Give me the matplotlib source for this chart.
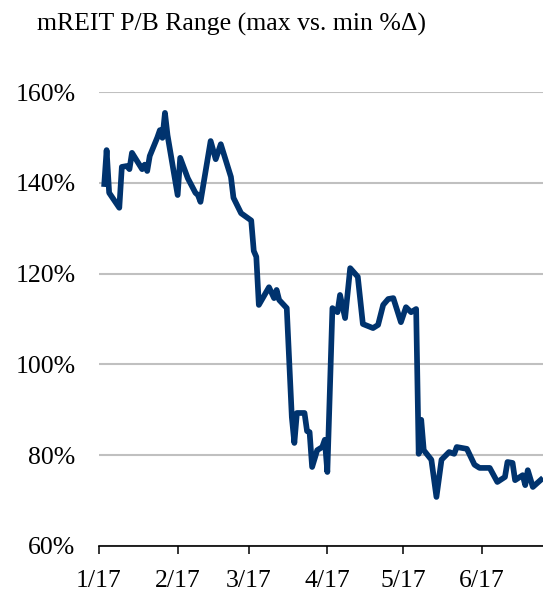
import datetime as dt
import matplotlib
matplotlib.use("Agg")
import matplotlib.pyplot as plt
import matplotlib.dates as mdates
from matplotlib.ticker import FixedLocator, FuncFormatter

# mREIT price-to-book range, max vs. min spread (%), 2017
dates = [
    "2017-01-03", "2017-01-04", "2017-01-05", "2017-01-09", "2017-01-10",
    "2017-01-12", "2017-01-13", "2017-01-14", "2017-01-18", "2017-01-19",
    "2017-01-20", "2017-01-21", "2017-01-24", "2017-01-25", "2017-01-26",
    "2017-01-27", "2017-01-28", "2017-02-01", "2017-02-02", "2017-02-05",
    "2017-02-08", "2017-02-09", "2017-02-10", "2017-02-14", "2017-02-16",
    "2017-02-18", "2017-02-22", "2017-02-23", "2017-02-26", "2017-03-02",
    "2017-03-03", "2017-03-04", "2017-03-05", "2017-03-09", "2017-03-11",
    "2017-03-12", "2017-03-13", "2017-03-16", "2017-03-18", "2017-03-19",
    "2017-03-20", "2017-03-23", "2017-03-24", "2017-03-25", "2017-03-26",
    "2017-03-28", "2017-03-30", "2017-03-31", "2017-04-01", "2017-04-03",
    "2017-04-05", "2017-04-06", "2017-04-08", "2017-04-10", "2017-04-13",
    "2017-04-15", "2017-04-19", "2017-04-21", "2017-04-23", "2017-04-25",
    "2017-04-27", "2017-04-30", "2017-05-02", "2017-05-04", "2017-05-06",
    "2017-05-07", "2017-05-08", "2017-05-09", "2017-05-12", "2017-05-14",
    "2017-05-16", "2017-05-19", "2017-05-21", "2017-05-22", "2017-05-26",
    "2017-05-29", "2017-05-31", "2017-06-04", "2017-06-07", "2017-06-10",
    "2017-06-11", "2017-06-13", "2017-06-14", "2017-06-17", "2017-06-18",
    "2017-06-19", "2017-06-21", "2017-06-25",
]
pb_range = [
    139.1, 147.2, 137.8, 134.5, 143.5,
    143.7, 143.0, 146.6, 143.0, 144.0,
    142.6, 145.9, 150.0, 151.6, 149.9,
    155.4, 150.5, 137.3, 145.5, 141.0,
    137.8, 137.3, 135.8, 149.2, 145.2,
    148.5, 141.3, 136.7, 133.3, 131.7,
    125.0, 123.7, 113.1, 117.0, 114.6,
    116.4, 114.2, 112.4, 88.4, 82.7,
    89.3, 89.3, 85.3, 85.1, 77.4,
    81.1, 81.8, 83.4, 76.3, 112.4,
    111.5, 115.3, 110.2, 121.2, 119.3,
    108.9, 108.0, 108.7, 113.1, 114.4,
    114.6, 109.3, 112.6, 111.5, 112.2,
    80.3, 87.8, 81.1, 79.0, 70.8,
    79.0, 80.7, 80.3, 81.8, 81.4,
    77.9, 77.2, 77.2, 74.1, 75.2,
    78.5, 78.3, 74.5, 75.6, 73.4,
    76.7, 73.0, 75.0,
]
x_ticks = ["2017-01-01", "2017-02-01", "2017-03-01", "2017-04-01", "2017-05-01", "2017-06-01"]
x_tick_labels = ["1/17", "2/17", "3/17", "4/17", "5/17", "6/17"]
y_ticks = [60, 80, 100, 120, 140, 160]

title = "mREIT P/B Range (max vs. min %\u0394)"

to_date = lambda s: dt.datetime.strptime(s, "%Y-%m-%d")
xs = [to_date(d) for d in dates]
xt = [mdates.date2num(to_date(d)) for d in x_ticks]

plt.rcParams["font.family"] = ["Liberation Serif", "DejaVu Serif"]

W, H = 543, 594
fig = plt.figure(figsize=(W / 100, H / 100), dpi=100)
ax = fig.add_axes([99 / W, (H - 546) / H, (W - 99) / W, (546 - 92) / H])

ax.plot(xs, pb_range, color="#00336e", lw=4.1, solid_joinstyle="round",
        solid_capstyle="butt", zorder=3, clip_on=False)

ax.set_ylim(60, 160)
ax.set_xlim(mdates.date2num(to_date("2017-01-01")), mdates.date2num(to_date("2017-06-25")))

ax.yaxis.set_major_locator(FixedLocator(y_ticks))
ax.yaxis.set_major_formatter(FuncFormatter(lambda v, p: f"{v:.0f}%"))
ax.xaxis.set_major_locator(FixedLocator(xt))
ax.set_xticklabels(x_tick_labels)

ax.grid(axis="y", color="#c0c0c0", lw=1.5, zorder=0)
ax.set_axisbelow(True)
for side in ("top", "right", "left"):
    ax.spines[side].set_visible(False)
ax.spines["bottom"].set_color("black")
ax.spines["bottom"].set_linewidth(1.2)
ax.spines["bottom"].set_zorder(4)

ax.tick_params(axis="y", length=0, pad=17, labelsize=18.5, colors="black")
ax.tick_params(axis="x", length=6, width=1.1, direction="out", pad=11, labelsize=18.5, colors="black")

fig.text(37 / W, (H - 31) / H, title, fontsize=18.5, ha="left", va="baseline", color="black")

fig.savefig("out.png", dpi=100)
